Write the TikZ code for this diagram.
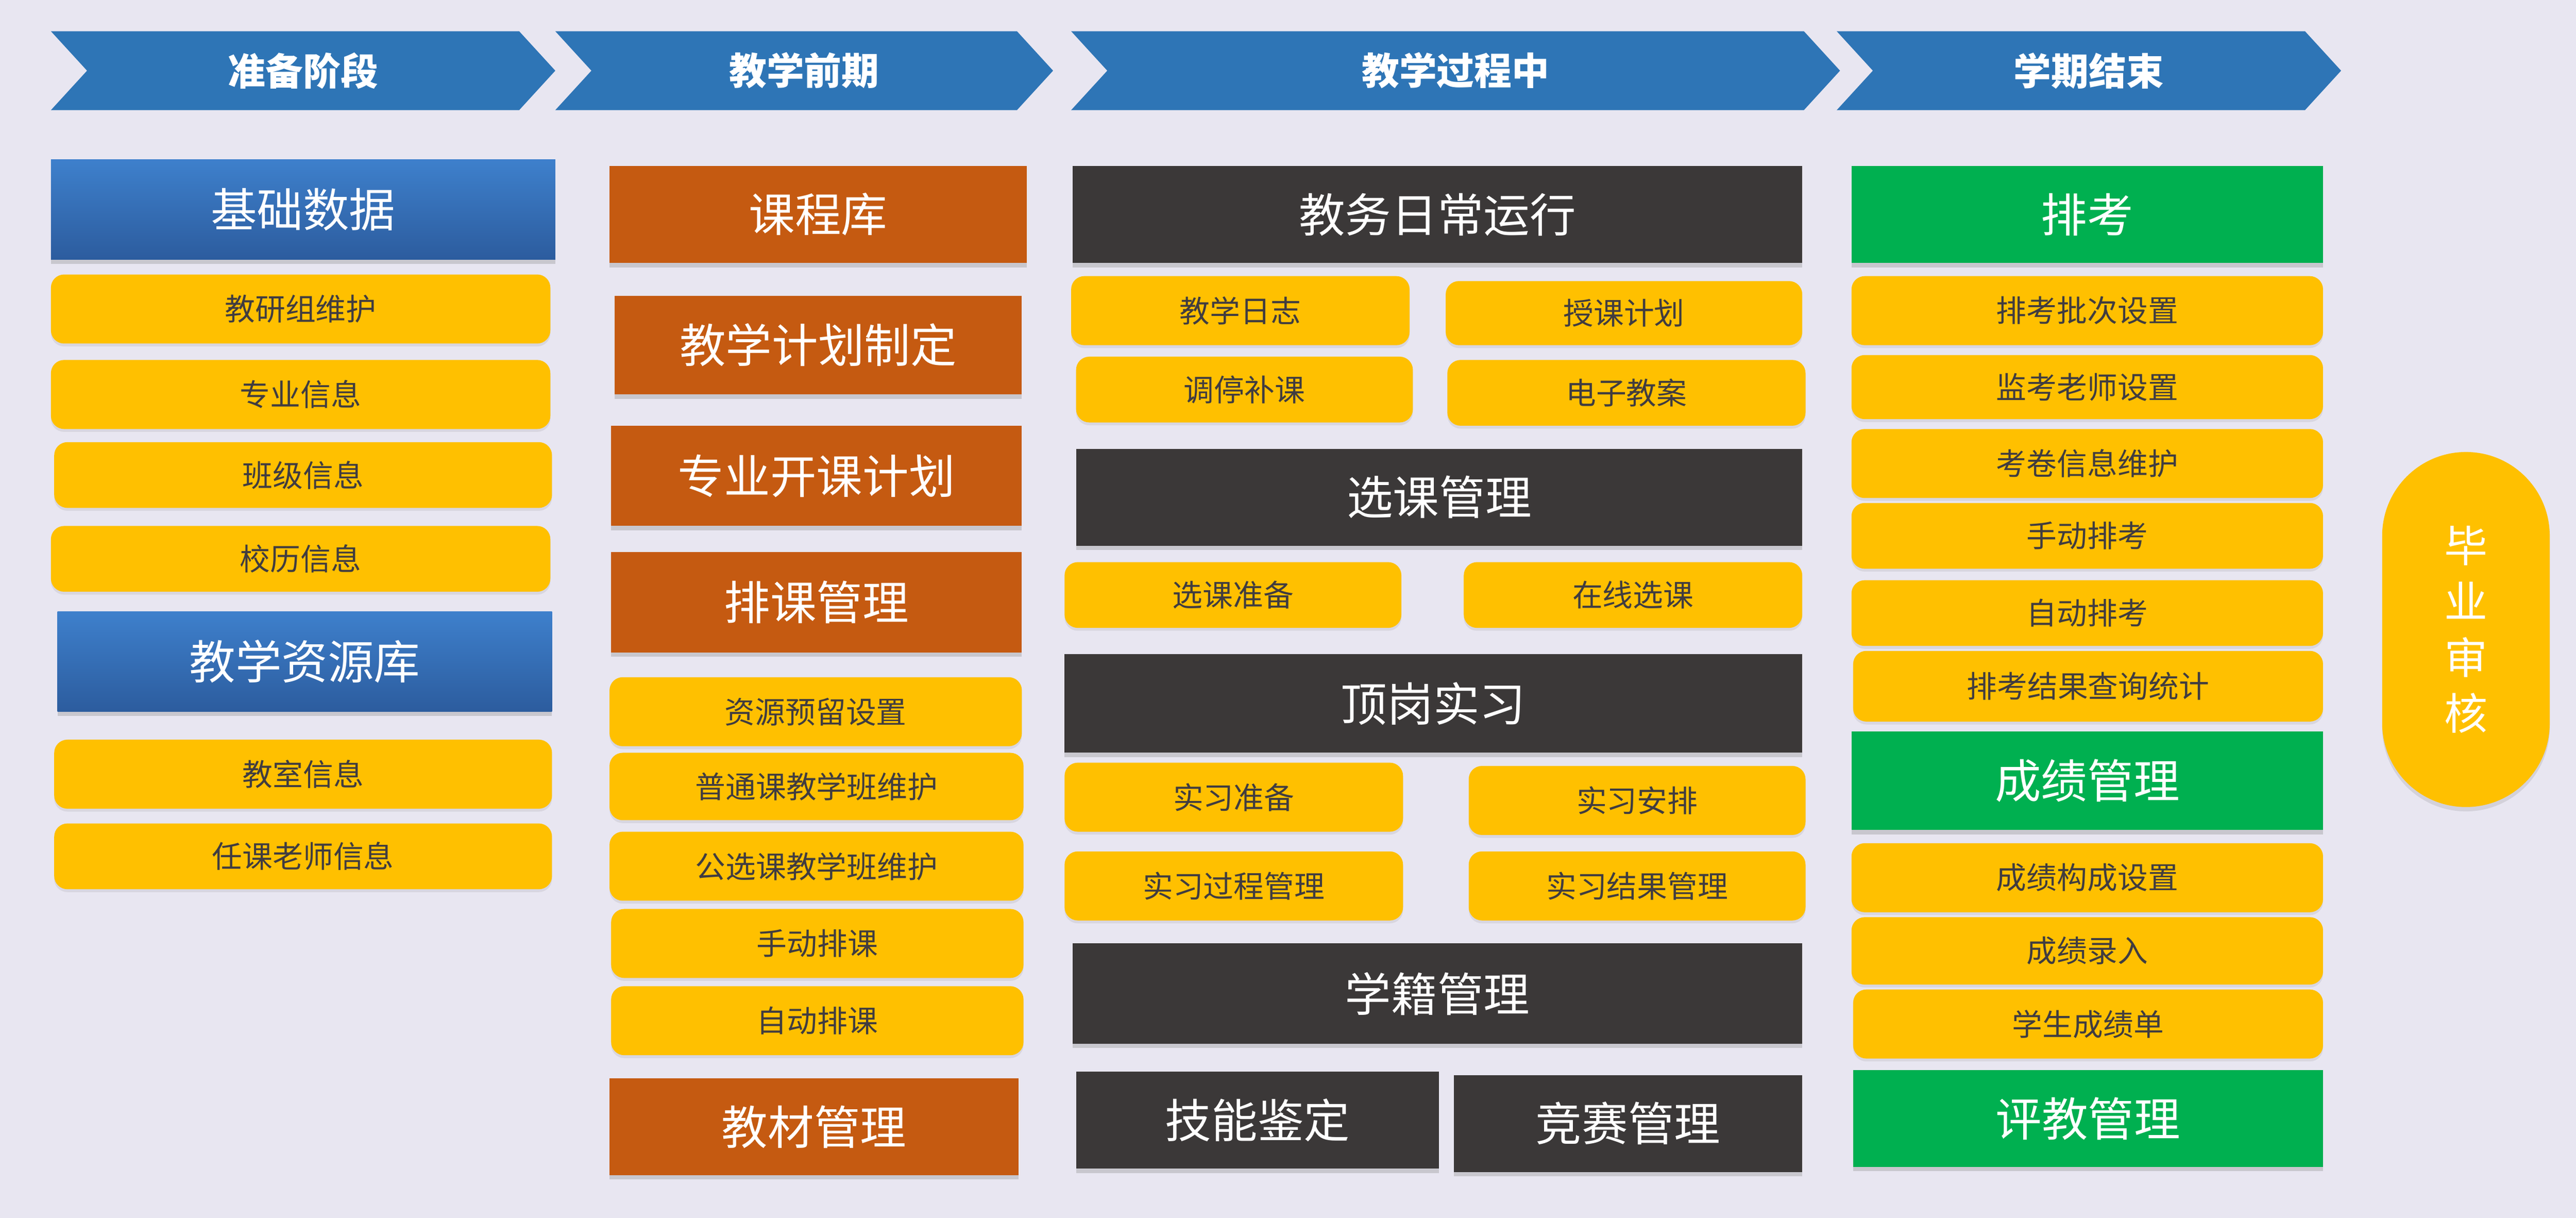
\documentclass[tikz,border=0pt]{standalone}
\usepackage{fontspec}
\setmainfont{Noto Sans CJK SC}
\usetikzlibrary{shapes.symbols,shadows}

\begin{document}
\begin{tikzpicture}[x=0.02cm, y=-0.02cm,
  stage/.style={signal, signal from=west, signal to=east, signal pointer angle=95,
    fill=stageblue, text=white, inner sep=0pt, minimum height=0.96cm,
    font=\fontsize{13}{15}\selectfont\bfseries},
  headbox/.style={rectangle, inner sep=0pt, text=white,
    font=\fontsize{16}{19}\selectfont,
    drop shadow={shadow xshift=0pt, shadow yshift=-1.5pt, opacity=0.3}},
  itembox/.style={rectangle, inner sep=0pt, rounded corners=0.16cm, fill=itemyellow,
    text=itemtext, font=\fontsize{10.5}{12}\selectfont,
    drop shadow={shadow xshift=0pt, shadow yshift=-1pt, opacity=0.15}},
  bluebox/.style={headbox, top color=blueA, bottom color=blueB},
  orangebox/.style={headbox, fill=orangeA},
  darkbox/.style={headbox, fill=darkA},
  greenbox/.style={headbox, fill=greenA},
]

\def\px{0.02cm}
\definecolor{bgcolor}{RGB}{232,230,241}
\definecolor{stageblue}{RGB}{46,117,182}
\definecolor{blueA}{RGB}{62,128,204}
\definecolor{blueB}{RGB}{44,92,158}
\definecolor{orangeA}{RGB}{197,90,17}
\definecolor{darkA}{RGB}{59,56,56}
\definecolor{greenA}{RGB}{0,176,80}
\definecolor{itemyellow}{RGB}{255,192,0}
\definecolor{itemtext}{RGB}{64,60,64}

\fill[bgcolor] (0,0) rectangle (1568,741);
\useasboundingbox (0,0) rectangle (1568,741);

% stages
\node[stage, minimum width=307*\px] (zhunbei) at (184.5,43) {准备阶段};
\node[stage, minimum width=303*\px] (qianqi) at (489.5,43) {教学前期};
\node[stage, minimum width=468*\px] (guocheng) at (886,43) {教学过程中};
\node[stage, minimum width=307*\px] (jieshu) at (1271.5,43) {学期结束};

% column 1
\node[bluebox, minimum width=307*\px, minimum height=61*\px] (jichu) at (184.5,127.5) {基础数据};
\node[itembox, minimum width=304*\px, minimum height=42*\px] (jiaoyanzu) at (183,188) {教研组维护};
\node[itembox, minimum width=304*\px, minimum height=42*\px] (zhuanye) at (183,240) {专业信息};
\node[itembox, minimum width=303*\px, minimum height=40*\px] (banji) at (184.5,289) {班级信息};
\node[itembox, minimum width=304*\px, minimum height=40*\px] (xiaoli) at (183,340) {校历信息};
\node[bluebox, minimum width=301*\px, minimum height=61*\px] (ziyuanku) at (185.5,402.5) {教学资源库};
\node[itembox, minimum width=303*\px, minimum height=42*\px] (jiaoshi) at (184.5,471) {教室信息};
\node[itembox, minimum width=303*\px, minimum height=40*\px] (laoshi) at (184.5,521) {任课老师信息};

% column 2
\node[orangebox, minimum width=254*\px, minimum height=59*\px] (kechengku) at (498,130.5) {课程库};
\node[orangebox, minimum width=248*\px, minimum height=60*\px] (jihua) at (498,210) {教学计划制定};
\node[orangebox, minimum width=250*\px, minimum height=61*\px] (kaike) at (497,289.5) {专业开课计划};
\node[orangebox, minimum width=250*\px, minimum height=61*\px] (paike) at (497,366.5) {排课管理};
\node[itembox, minimum width=251*\px, minimum height=42*\px] (yuliu) at (496.5,433) {资源预留设置};
\node[itembox, minimum width=252*\px, minimum height=41*\px] (putong) at (497,478.5) {普通课教学班维护};
\node[itembox, minimum width=252*\px, minimum height=42*\px] (gongxuan) at (497,527) {公选课教学班维护};
\node[itembox, minimum width=251*\px, minimum height=42*\px] (shoudongpk) at (497.5,574) {手动排课};
\node[itembox, minimum width=251*\px, minimum height=42*\px] (zidongpk) at (497.5,621) {自动排课};
\node[orangebox, minimum width=249*\px, minimum height=59*\px] (jiaocai) at (495.5,685.5) {教材管理};

% column 3
\node[darkbox, minimum width=444*\px, minimum height=59*\px] (richang) at (875,130.5) {教务日常运行};
\node[itembox, minimum width=206*\px, minimum height=42*\px] (rizhi) at (755,189) {教学日志};
\node[itembox, minimum width=217*\px, minimum height=39*\px] (shouke) at (988.5,190.5) {授课计划};
\node[itembox, minimum width=205*\px, minimum height=40*\px] (tiaoting) at (757.5,237) {调停补课};
\node[itembox, minimum width=218*\px, minimum height=40*\px] (jiaoan) at (990,239) {电子教案};
\node[darkbox, minimum width=442*\px, minimum height=59*\px] (xuanke) at (876,302.5) {选课管理};
\node[itembox, minimum width=205*\px, minimum height=40*\px] (xkzhunbei) at (750.5,362) {选课准备};
\node[itembox, minimum width=206*\px, minimum height=40*\px] (zaixian) at (994,362) {在线选课};
\node[darkbox, minimum width=449*\px, minimum height=60*\px] (dinggang) at (872.5,428) {顶岗实习};
\node[itembox, minimum width=206*\px, minimum height=42*\px] (sxzhunbei) at (751,485) {实习准备};
\node[itembox, minimum width=205*\px, minimum height=42*\px] (sxanpai) at (996.5,487) {实习安排};
\node[itembox, minimum width=206*\px, minimum height=42*\px] (sxguocheng) at (751,539) {实习过程管理};
\node[itembox, minimum width=205*\px, minimum height=42*\px] (sxjieguo) at (996.5,539) {实习结果管理};
\node[darkbox, minimum width=444*\px, minimum height=61*\px] (xueji) at (875,604.5) {学籍管理};
\node[darkbox, minimum width=221*\px, minimum height=59*\px] (jianding) at (765.5,681.5) {技能鉴定};
\node[darkbox, minimum width=212*\px, minimum height=59*\px] (jingsai) at (991,683.5) {竞赛管理};

% column 4
\node[greenbox, minimum width=287*\px, minimum height=59*\px] (paikao) at (1270.5,130.5) {排考};
\node[itembox, minimum width=287*\px, minimum height=42*\px] (pici) at (1270.5,189) {排考批次设置};
\node[itembox, minimum width=287*\px, minimum height=39*\px] (jiankao) at (1270.5,235.5) {监考老师设置};
\node[itembox, minimum width=287*\px, minimum height=42*\px] (kaojuan) at (1270.5,282) {考卷信息维护};
\node[itembox, minimum width=287*\px, minimum height=40*\px] (shoudongpkao) at (1270.5,326) {手动排考};
\node[itembox, minimum width=287*\px, minimum height=40*\px] (zidongpkao) at (1270.5,373) {自动排考};
\node[itembox, minimum width=286*\px, minimum height=43*\px] (chaxun) at (1271,417.5) {排考结果查询统计};
\node[greenbox, minimum width=287*\px, minimum height=60*\px] (chengji) at (1270.5,475) {成绩管理};
\node[itembox, minimum width=287*\px, minimum height=42*\px] (goucheng) at (1270.5,534) {成绩构成设置};
\node[itembox, minimum width=287*\px, minimum height=41*\px] (luru) at (1270.5,578.5) {成绩录入};
\node[itembox, minimum width=286*\px, minimum height=42*\px] (chengjidan) at (1271,623) {学生成绩单};
\node[greenbox, minimum width=286*\px, minimum height=59*\px] (pingjiao) at (1271,680.5) {评教管理};

% graduation
\node[rectangle, rounded corners=1.02cm, fill=itemyellow, text=white, inner sep=0pt,
  minimum width=102*\px, minimum height=216*\px, align=center,
  font=\fontsize{15}{19.3}\selectfont,
  drop shadow={shadow xshift=0pt, shadow yshift=-1.5pt, opacity=0.2}] (biye) at (1501,383) {毕\\业\\审\\核};

\end{tikzpicture}
\end{document}
